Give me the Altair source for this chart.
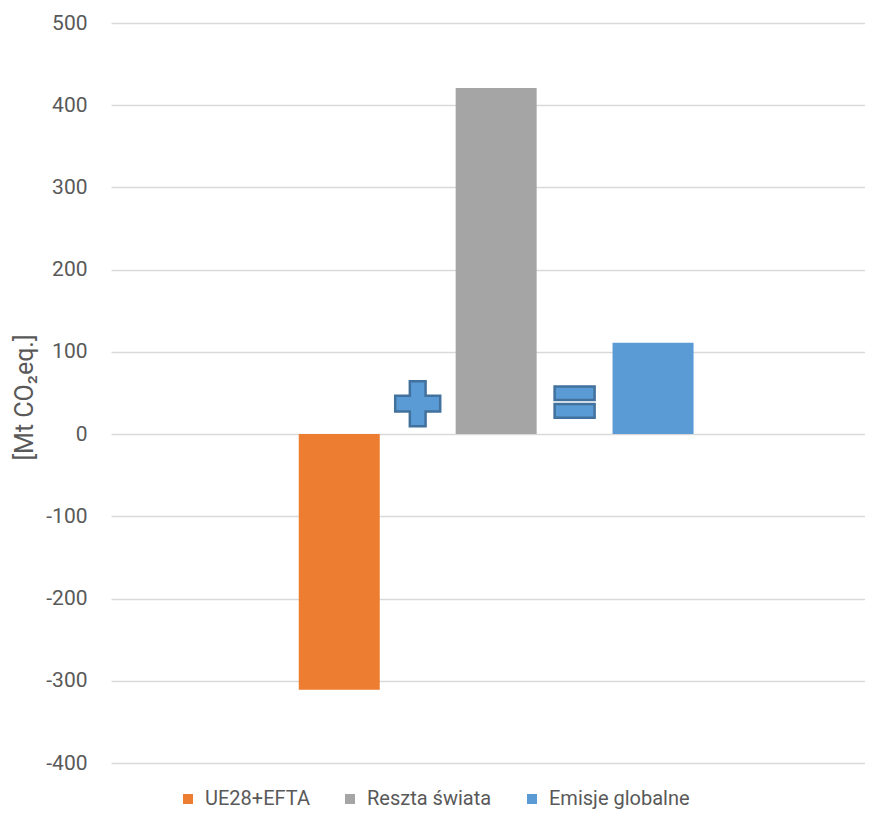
import altair as alt
import pandas as pd

# ---- data ----
series = ["UE28+EFTA", "Reszta świata", "Emisje globalne"]
values = [-311, 421, 111]
positions = [1, 2, 3]
colors = ["#ED7D31", "#A5A5A5", "#5B9BD5"]

op_symbols = ["+", "="]
op_positions = [1.5, 2.5]
op_values = [37, 39]

y_ticks = [-400, -300, -200, -100, 0, 100, 200, 300, 400, 500]
y_title = "[Mt CO₂eq.]"

bars_df = pd.DataFrame({"series": series, "value": values, "pos": positions})
plus_df = pd.DataFrame({"op": op_symbols[:1], "pos": op_positions[:1], "value": op_values[:1]})
eq_df = pd.DataFrame({"op": op_symbols[1:], "pos": op_positions[1:], "value": op_values[1:]})

PLUS = ("M -0.35 -1 L 0.35 -1 L 0.35 -0.35 L 1 -0.35 L 1 0.35 L 0.35 0.35 "
        "L 0.35 1 L -0.35 1 L -0.35 0.35 L -1 0.35 L -1 -0.35 L -0.35 -0.35 Z")
EQUALS = ("M -1 -0.78 L 1 -0.78 L 1 -0.1 L -1 -0.1 Z "
          "M -1 0.1 L 1 0.1 L 1 0.78 L -1 0.78 Z")

FONT = "Roboto"
TXT = "#595959"

x_scale = alt.Scale(domain=[-0.423, 4.319], nice=False, zero=False)
y_scale = alt.Scale(domain=[-400, 500], nice=False)

bars = alt.Chart(bars_df).mark_bar(size=81).encode(
    x=alt.X("pos:Q", scale=x_scale, axis=None),
    y=alt.Y(
        "value:Q",
        scale=y_scale,
        axis=alt.Axis(
            values=y_ticks,
            title=y_title,
            labelExpr="replace(datum.label, '−', '-')",
            titleX=-87,
            titleY=374,
            titleAngle=270,
            titleAlign="center",
            titleBaseline="middle",
        ),
    ),
    color=alt.Color(
        "series:N",
        scale=alt.Scale(domain=series, range=colors),
        sort=series,
        legend=alt.Legend(
            title=None,
            orient="none",
            legendX=67,
            legendY=766,
            direction="horizontal",
            symbolType="square",
            symbolSize=100,
            symbolStrokeWidth=0,
            labelFont=FONT,
            labelFontSize=20,
            labelColor=TXT,
            labelOffset=7,
            columnPadding=30,
            padding=0,
        ),
    ),
)

plus = alt.Chart(plus_df).mark_point(
    shape=PLUS, size=2025, filled=True, fill="#5B9BD5", stroke="#41719C",
    strokeWidth=2.5, opacity=1
).encode(
    x=alt.X("pos:Q", scale=x_scale, axis=None),
    y=alt.Y("value:Q", scale=y_scale),
)

equals = alt.Chart(eq_df).mark_point(
    shape=EQUALS, size=1600, filled=True, fill="#5B9BD5", stroke="#41719C",
    strokeWidth=2.5, opacity=1
).encode(
    x=alt.X("pos:Q", scale=x_scale, axis=None),
    y=alt.Y("value:Q", scale=y_scale),
)

chart = (
    alt.layer(bars, plus, equals)
    .properties(
        width=754,
        height=740,
        autosize=alt.AutoSizeParams(type="none"),
        padding={"left": 103, "top": 15, "right": 0, "bottom": 52},
    )
    .configure_view(stroke=None)
    .configure_axis(
        labelFont=FONT,
        labelFontSize=21,
        labelColor=TXT,
        labelPadding=24,
        ticks=False,
        tickSize=0,
        domain=False,
        grid=True,
        gridColor="#D9D9D9",
        gridWidth=1.5,
        titleFont=FONT,
        titleFontSize=25,
        titleFontWeight="normal",
        titleColor=TXT,
    )
)

chart.save("out.html", embed_options={"renderer": "svg", "actions": False})
